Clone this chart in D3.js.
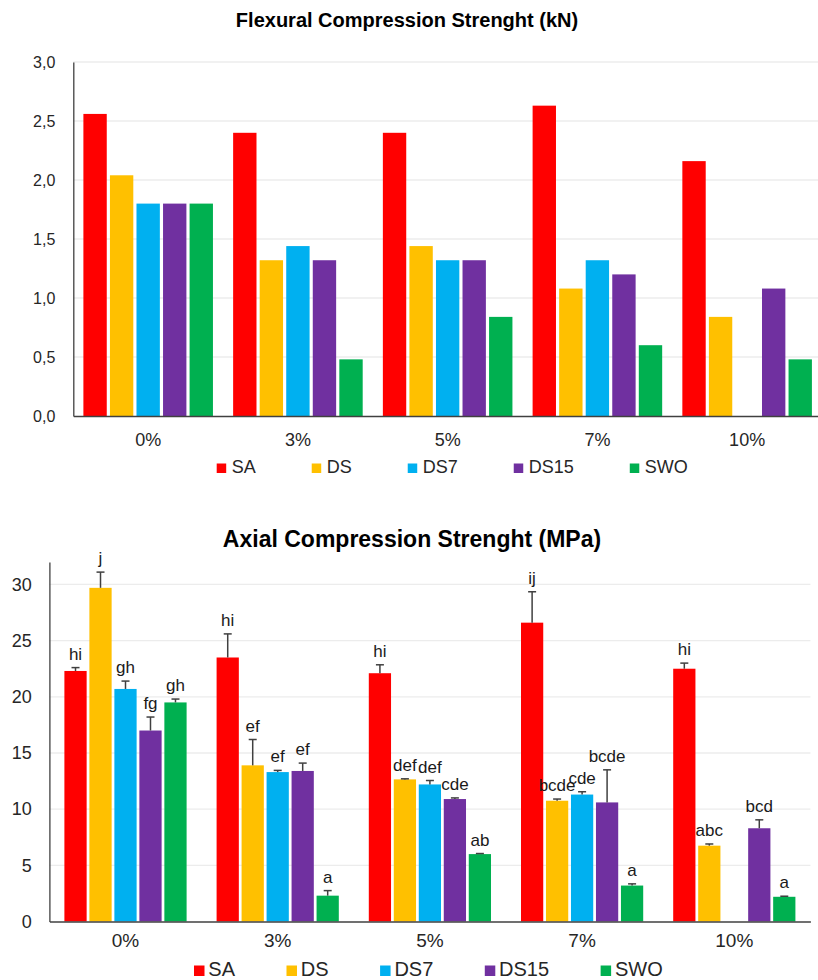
<!DOCTYPE html>
<html>
<head>
<meta charset="utf-8">
<script src="https://cdn.jsdelivr.net/npm/d3@7"></script>
<style>
  body { margin: 0; background: #fff; }
  svg { display: block; font-family: "Liberation Sans", Arial, sans-serif; }
</style>
</head>
<body>
<div id="chart"></div>
<script>
const categories = ["0%", "3%", "5%", "7%", "10%"];
const seriesNames = ["SA", "DS", "DS7", "DS15", "SWO"];

// flexural (kN), null = no bar
const flexSA = [2.56, 2.40, 2.40, 2.63, 2.16];
const flexDS = [2.04, 1.32, 1.44, 1.08, 0.84];
const flexDS7 = [1.80, 1.44, 1.32, 1.32, null];
const flexDS15 = [1.80, 1.32, 1.32, 1.20, 1.08];
const flexSWO = [1.80, 0.48, 0.84, 0.60, 0.48];
const flexTicks = [0, 0.5, 1, 1.5, 2, 2.5, 3];

// axial (MPa)
const axialSA = [22.3, 23.5, 22.1, 26.6, 22.5];
const axialDS = [29.7, 13.9, 12.65, 10.75, 6.75];
const axialDS7 = [20.7, 13.3, 12.2, 11.3, null];
const axialDS15 = [17.0, 13.4, 10.9, 10.6, 8.3];
const axialSWO = [19.5, 2.3, 6.0, 3.2, 2.2];
const errSA = [0.3, 2.1, 0.75, 2.75, 0.5];
const errDS = [1.4, 2.3, 0.05, 0.15, 0.15];
const errDS7 = [0.7, 0.15, 0.35, 0.25, null];
const errDS15 = [1.2, 0.7, 0.1, 2.9, 0.75];
const errSWO = [0.3, 0.45, 0.05, 0.15, 0.05];
const lettersSA = ["hi", "hi", "hi", "ij", "hi"];
const lettersDS = ["j", "ef", "def", "bcde", "abc"];
const lettersDS7 = ["gh", "ef", "def", "cde", ""];
const lettersDS15 = ["fg", "ef", "cde", "bcde", "bcd"];
const lettersSWO = ["gh", "a", "ab", "a", "a"];
const axialTicks = [0, 5, 10, 15, 20, 25, 30];

const colors = ["#ff0000", "#ffc000", "#00b0f0", "#7030a0", "#00b050"];

const svg = d3.select("#chart").append("svg")
  .attr("width", 818)
  .attr("height", 980);

function makeRows(values, errs, letters) {
  const rows = [];
  categories.forEach((c, i) => {
    seriesNames.forEach((s, j) => {
      if (values[j][i] == null) return;
      rows.push({
        cat: c,
        name: s,
        color: colors[j],
        value: values[j][i],
        err: errs ? errs[j][i] : 0,
        letter: letters ? letters[j][i] : ""
      });
    });
  });
  return rows;
}

function drawChart(opt) {
  const g = svg.append("g");
  const x0 = d3.scaleBand().domain(categories).range([opt.left, opt.right]);
  const x1 = d3.scaleBand()
    .domain(seriesNames)
    .range([0, x0.bandwidth()])
    .paddingInner(opt.pi)
    .paddingOuter(opt.po);
  const y = d3.scaleLinear().domain(opt.domain).range([opt.bottom, opt.top]);

  // gridlines
  g.selectAll(".grid")
    .data(opt.ticks.filter((t) => t > 0))
    .join("line")
    .attr("x1", opt.left)
    .attr("x2", opt.gridRight)
    .attr("y1", (d) => y(d))
    .attr("y2", (d) => y(d))
    .attr("stroke", "#ececec")
    .attr("stroke-width", 1.3);

  // bars
  const bars = g.append("g");
  bars.selectAll("rect")
    .data(opt.rows)
    .join("rect")
    .attr("x", (d) => x0(d.cat) + x1(d.name))
    .attr("width", x1.bandwidth())
    .attr("y", (d) => y(d.value))
    .attr("height", (d) => y(0) - y(d.value))
    .attr("fill", (d) => d.color);

  // error bars (upper only)
  if (opt.errors) {
    const eb = g.append("g").attr("stroke", "#404040").attr("stroke-width", 1.5);
    opt.rows.forEach((d) => {
      const cx = x0(d.cat) + x1(d.name) + x1.bandwidth() / 2;
      eb.append("line")
        .attr("x1", cx).attr("x2", cx)
        .attr("y1", y(d.value)).attr("y2", y(d.value + d.err));
      eb.append("line")
        .attr("x1", cx - 4).attr("x2", cx + 4)
        .attr("y1", y(d.value + d.err)).attr("y2", y(d.value + d.err));
    });
    g.append("g")
      .selectAll("text")
      .data(opt.rows.filter((d) => d.letter))
      .join("text")
      .attr("x", (d) => x0(d.cat) + x1(d.name) + x1.bandwidth() / 2)
      .attr("y", (d) => y(d.value + d.err) - 8)
      .attr("text-anchor", "middle")
      .attr("font-size", 17)
      .attr("fill", "#1a1a1a")
      .text((d) => d.letter);
  }

  // y axis
  const yAxis = d3.axisLeft(y)
    .tickValues(opt.ticks)
    .tickSize(0)
    .tickPadding(opt.yPad)
    .tickFormat(opt.fmt);
  const ya = g.append("g").attr("transform", `translate(${opt.left},0)`).call(yAxis);
  ya.select(".domain").attr("stroke", "#404040").attr("stroke-width", 1.3);
  ya.selectAll("text").attr("font-size", opt.tickFont).attr("fill", "#262626")
    .style("font-family", "Liberation Sans, Arial, sans-serif");

  // x axis
  const xAxis = d3.axisBottom(x0).tickSize(0).tickPadding(opt.xPad);
  const xa = g.append("g").attr("transform", `translate(0,${y(0)})`).call(xAxis);
  xa.select(".domain").attr("stroke", "#404040").attr("stroke-width", 1.3);
  xa.selectAll("text").attr("font-size", opt.catFont).attr("fill", "#262626")
    .style("font-family", "Liberation Sans, Arial, sans-serif");

  // title
  g.append("text")
    .attr("x", opt.titleX)
    .attr("y", opt.titleY)
    .attr("text-anchor", "middle")
    .attr("font-size", opt.titleFont)
    .attr("font-weight", "bold")
    .attr("fill", "#000")
    .text(opt.title);

  // legend
  const lg = g.append("g");
  let lx = opt.legendX;
  seriesNames.forEach((s, j) => {
    lg.append("rect")
      .attr("x", lx)
      .attr("y", opt.legendY - opt.sq)
      .attr("width", opt.sq)
      .attr("height", opt.sq)
      .attr("fill", colors[j]);
    const t = lg.append("text")
      .attr("x", lx + opt.textOff)
      .attr("y", opt.legendY)
      .attr("font-size", opt.legendFont)
      .attr("fill", "#262626")
      .text(s);
    lx += opt.textOff + t.node().getComputedTextLength() + opt.legendGap;
  });
}

const commaFmt = (d) => d3.format(".1f")(d).replace(".", ",");

drawChart({
  rows: makeRows([flexSA, flexDS, flexDS7, flexDS15, flexSWO]),
  left: 73.3, right: 822, gridRight: 818,
  top: 62, bottom: 416, domain: [0, 3],
  pi: 0.12, po: 0.38,
  ticks: flexTicks, fmt: commaFmt,
  yPad: 18, xPad: 17, tickFont: 16, catFont: 18,
  title: "Flexural Compression Strenght (kN)",
  titleX: 407, titleY: 27, titleFont: 20,
  legendX: 216.7, legendY: 473, sq: 9.5, textOff: 15, legendFont: 18, legendGap: 56,
  errors: false
});

drawChart({
  rows: makeRows(
    [axialSA, axialDS, axialDS7, axialDS15, axialSWO],
    [errSA, errDS, errDS7, errDS15, errSWO],
    [lettersSA, lettersDS, lettersDS7, lettersDS15, lettersSWO]
  ),
  left: 49.4, right: 810.4, gridRight: 810.4,
  top: 562, bottom: 921.5, domain: [0, 32],
  pi: 0.11, po: 0.6,
  ticks: axialTicks, fmt: d3.format("d"),
  yPad: 17.7, xPad: 11.7, tickFont: 18, catFont: 19,
  title: "Axial Compression Strenght (MPa)",
  titleX: 412, titleY: 546.7, titleFont: 23,
  legendX: 194, legendY: 976, sq: 10.5, textOff: 14.3, legendFont: 20, legendGap: 51.5,
  errors: true
});
</script>
</body>
</html>
